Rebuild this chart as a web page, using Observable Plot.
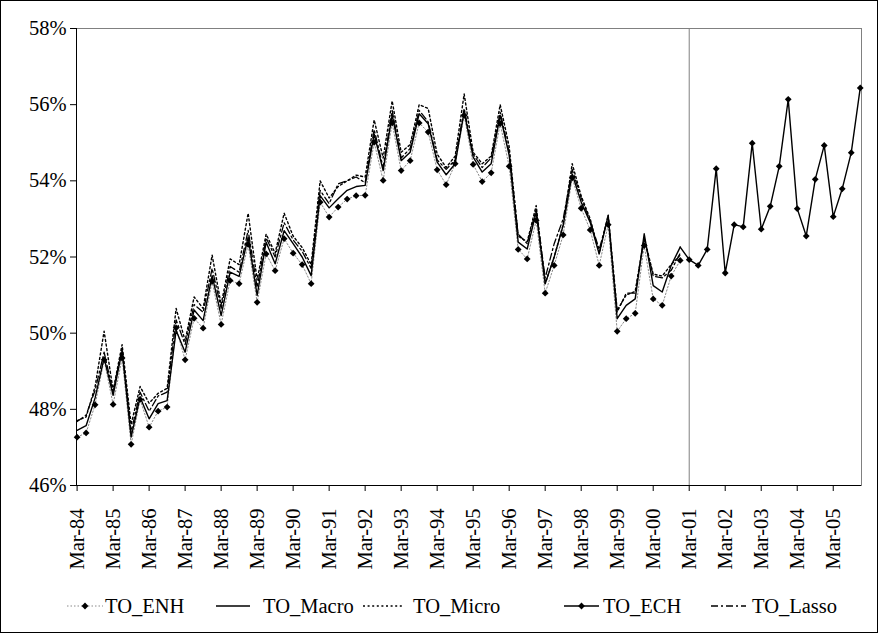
<!DOCTYPE html>
<html>
<head>
<meta charset="utf-8">
<script src="https://cdn.jsdelivr.net/npm/d3@7"></script>
<script src="https://cdn.jsdelivr.net/npm/@observablehq/plot@0.6"></script>
<style>
  html, body { margin: 0; padding: 0; background: #fff; }
  #chart { position: relative; width: 878px; height: 633px; overflow: hidden; background: #fff; }
  #chart svg { position: absolute; left: 0; }
  #border { position: absolute; left: 0; top: 0; width: 878px; height: 633px; box-sizing: border-box; border: 1px solid #000; pointer-events: none; }
</style>
</head>
<body>
<div id="chart"><div id="border"></div></div>
<script>
// Quarterly rates, Mar-84 .. Dec-00 (68 quarters), in percent
const enh = [
  47.27, 47.38, 48.12, 49.30, 48.13, 49.35, 47.08, 48.26, 47.53, 47.95,
  48.06, 50.14, 49.30, 50.39, 50.13, 51.36, 50.23, 51.38, 51.30, 52.33,
  50.81, 52.08, 51.64, 52.48, 52.10, 51.80, 51.30, 53.44, 53.05, 53.31,
  53.52, 53.61, 53.62, 55.01, 54.01, 55.52, 54.27, 54.53, 55.52, 55.28,
  54.29, 53.90, 54.45, 55.72, 54.43, 53.98, 54.21, 55.50, 54.38, 52.20,
  51.95, 52.96, 51.05, 51.78, 52.58, 54.08, 53.28, 52.71, 51.78, 52.85,
  50.05, 50.38, 50.52, 52.30, 50.90, 50.73, 51.50, 51.91
];
const macro = [
  47.45, 47.57, 48.30, 49.35, 48.37, 49.54, 47.27, 48.32, 47.75, 48.15,
  48.23, 50.07, 49.50, 50.61, 50.33, 51.51, 50.46, 51.60, 51.49, 52.52,
  50.99, 52.39, 51.82, 52.69, 52.35, 52.00, 51.51, 53.61, 53.29, 53.53,
  53.75, 53.85, 53.88, 55.23, 54.27, 55.73, 54.53, 54.75, 55.76, 55.50,
  54.49, 54.16, 54.45, 55.82, 54.62, 54.23, 54.45, 55.72, 54.67, 52.39,
  52.21, 53.18, 51.30, 52.00, 52.83, 54.18, 53.44, 52.91, 52.08, 53.09,
  50.38, 50.73, 50.90, 52.61, 51.25, 51.08, 51.78, 52.26
];
const micro = [
  47.70, 47.80, 48.60, 50.05, 48.50, 49.70, 47.60, 48.60, 48.16, 48.42,
  48.55, 50.65, 49.80, 50.95, 50.65, 52.05, 50.75, 51.95, 51.80, 53.15,
  51.40, 52.60, 52.10, 53.15, 52.55, 52.25, 51.80, 54.00, 53.55, 53.85,
  54.00, 54.15, 54.10, 55.60, 54.60, 56.10, 54.75, 54.95, 56.00, 55.90,
  54.70, 54.35, 54.65, 56.28, 54.75, 54.45, 54.65, 56.00, 54.90, 52.55,
  52.40, 53.35, 51.30, 52.00, 52.85, 54.45, 53.60, 53.00, 52.10, 53.10,
  50.60, 51.00, 51.10, 52.50, 51.55, 51.50, 51.80, 52.05
];
const lasso = [
  47.68, 47.85, 48.50, 49.50, 48.45, 49.60, 47.40, 48.45, 47.95, 48.35,
  48.45, 50.35, 49.70, 50.75, 50.55, 51.70, 50.65, 51.75, 51.60, 52.70,
  51.20, 52.50, 52.00, 52.90, 52.45, 52.15, 51.70, 53.75, 53.40, 53.92,
  54.00, 54.10, 53.95, 55.35, 54.35, 55.85, 54.60, 54.85, 55.85, 55.55,
  54.55, 54.30, 54.55, 55.90, 54.70, 54.35, 54.60, 55.80, 54.75, 52.60,
  52.35, 53.25, 51.45, 52.35, 53.00, 54.30, 53.55, 52.95, 52.20, 53.05,
  50.55, 51.05, 51.05, 52.50, 51.50, 51.45, 51.65, 52.10
];
// Projection, Mar-01 .. Dec-05 (20 quarters)
const ech = [
  51.93, 51.78, 52.20, 54.32, 51.58, 52.85, 52.79, 54.99, 52.73, 53.33,
  54.38, 56.14, 53.27, 52.55, 54.04, 54.93, 53.06, 53.79, 54.74, 56.44
];
const tickLabels = [
  "Mar-84", "Mar-85", "Mar-86", "Mar-87", "Mar-88", "Mar-89", "Mar-90", "Mar-91",
  "Mar-92", "Mar-93", "Mar-94", "Mar-95", "Mar-96", "Mar-97", "Mar-98", "Mar-99",
  "Mar-00", "Mar-01", "Mar-02", "Mar-03", "Mar-04", "Mar-05"
];
const yTicks = [46, 48, 50, 52, 54, 56, 58];

const FONT = "'Liberation Serif', 'Times New Roman', serif";
const start = enh.length; // index of Mar-01

const pts = arr => arr.map((v, i) => ({i, v}));
const enhData = pts(enh);
const macroData = pts(macro);
const microData = pts(micro);
const lassoData = pts(lasso);
const echData = ech.map((v, k) => ({i: start + k, v}));
// projection line picks up from the last historical (Macro) quarter
const echLine = [macroData[macroData.length - 1], ...echData];
const tickIdx = tickLabels.map((_, k) => k * 4);

const W = 878, H = 580;
const chart = Plot.plot({
  width: W,
  height: H,
  marginLeft: 76,
  marginRight: 17,
  marginTop: 28,
  marginBottom: H - 485,
  style: {fontFamily: FONT, fontSize: "20.5px", color: "#000", background: "transparent"},
  x: {domain: [-0.067, 87.14]},
  y: {domain: [46, 58]},
  marks: [
    Plot.frame({stroke: "#808080"}),
    Plot.ruleX([start], {stroke: "#808080", strokeWidth: 1}),
    // historical series
    Plot.line(enhData, {x: "i", y: "v", stroke: "#8a8a8a", strokeWidth: 1, strokeDasharray: "1.5,2"}),
    Plot.line(microData, {x: "i", y: "v", stroke: "#000", strokeWidth: 1.4, strokeDasharray: "2,2.6"}),
    Plot.line(lassoData, {x: "i", y: "v", stroke: "#000", strokeWidth: 1.3, strokeDasharray: "7,3,2,3"}),
    Plot.line(macroData, {x: "i", y: "v", stroke: "#000", strokeWidth: 1.4}),
    Plot.dot(enhData, {x: "i", y: "v", symbol: "square", rotate: 45, r: 2.7, fill: "#000", stroke: "none"}),
    // projection
    Plot.line(echLine, {x: "i", y: "v", stroke: "#000", strokeWidth: 1.4}),
    Plot.dot(echData, {x: "i", y: "v", symbol: "square", rotate: 45, r: 2.7, fill: "#000", stroke: "none"}),
    // axes
    Plot.ruleX([-0.067], {stroke: "#000", strokeWidth: 1}),
    Plot.ruleY([46], {stroke: "#000", strokeWidth: 1}),
    Plot.axisY({ticks: yTicks, tickFormat: d => d + "%", tickSize: 6, tickPadding: 4, label: null}),
    Plot.axisX({ticks: tickIdx, tickFormat: (d) => tickLabels[d / 4], tickSize: 6, tickPadding: 17, tickRotate: -90, label: null})
  ]
});
chart.style.top = "0px";
document.getElementById("chart").appendChild(chart);

// Legend row below the chart
const legendItems = [
  {name: "TO_ENH", x0: 67, x1: 103, tx: 105, stroke: "#8a8a8a", dash: "1.5,2", width: 1, marker: true},
  {name: "TO_Macro", x0: 216, x1: 250, tx: 263, stroke: "#000", dash: null, width: 1.4, marker: false},
  {name: "TO_Micro", x0: 363, x1: 404, tx: 413, stroke: "#000", dash: "2,2.6", width: 1.6, marker: false},
  {name: "TO_ECH", x0: 564, x1: 599, tx: 603, stroke: "#000", dash: null, width: 1.4, marker: true},
  {name: "TO_Lasso", x0: 711, x1: 746, tx: 752, stroke: "#000", dash: "7,3,2,3", width: 1.4, marker: false}
];
const LY = 580, LH = 53, cy = 606 - LY;
const leg = d3.create("svg").attr("width", W).attr("height", LH).style("top", LY + "px");
const g = leg.selectAll("g").data(legendItems).join("g");
g.append("line")
  .attr("x1", d => d.x0).attr("x2", d => d.x1).attr("y1", cy).attr("y2", cy)
  .attr("stroke", d => d.stroke).attr("stroke-width", d => d.width)
  .attr("stroke-dasharray", d => d.dash);
g.filter(d => d.marker).append("path")
  .attr("d", d3.symbol(d3.symbolSquare, Math.PI * 2.7 * 2.7))
  .attr("transform", d => `translate(${(d.x0 + d.x1) / 2},${cy}) rotate(45)`)
  .attr("fill", "#000");
g.append("text")
  .attr("x", d => d.tx).attr("y", cy + 7)
  .attr("font-family", FONT).attr("font-size", "20.5px").attr("fill", "#000")
  .text(d => d.name);
document.getElementById("chart").appendChild(leg.node());
</script>
</body>
</html>
